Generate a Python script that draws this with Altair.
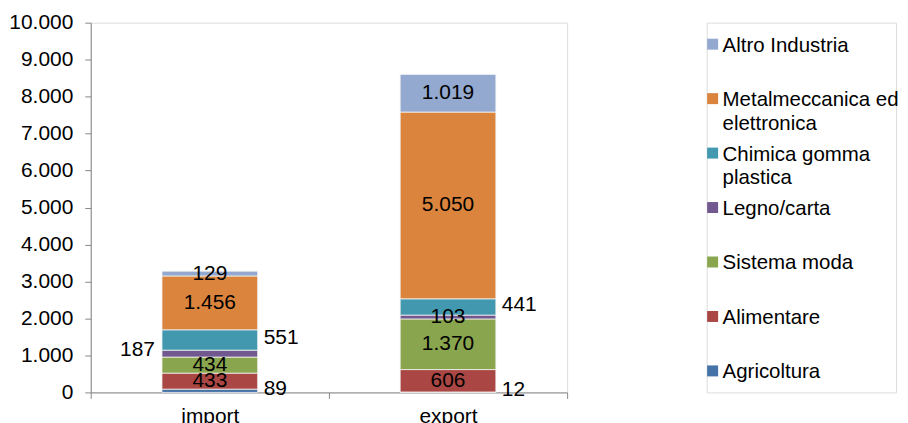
import altair as alt
import pandas as pd

# ---- data ----
categories = ["import", "export"]
series = ["Agricoltura", "Alimentare", "Sistema moda", "Legno/carta",
          "Chimica gomma plastica", "Metalmeccanica ed elettronica", "Altro Industria"]
legend_labels = ["Agricoltura", "Alimentare", "Sistema moda", "Legno/carta",
                 "Chimica gomma\nplastica", "Metalmeccanica ed\nelettronica", "Altro Industria"]
import_values = [89, 433, 434, 187, 551, 1456, 129]
export_values = [12, 606, 1370, 103, 441, 5050, 1019]
colors = ["#4572A7", "#AA4643", "#89A54E", "#71588F", "#4198AF", "#DB843D", "#93A9CF"]
y_ticks = [0, 1000, 2000, 3000, 4000, 5000, 6000, 7000, 8000, 9000, 10000]

# label placement (style): which labels sit beside the bar
side = {("import", "Agricoltura"): "right",
        ("import", "Legno/carta"): "left",
        ("import", "Chimica gomma plastica"): "right",
        ("export", "Agricoltura"): "right",
        ("export", "Chimica gomma plastica"): "right"}

rows = []
for cat, vals in zip(categories, [import_values, export_values]):
    for i, (s, v) in enumerate(zip(series, vals)):
        rows.append({"cat": cat, "series": s, "value": v, "ord": i,
                     "side": side.get((cat, s), "center")})
df = pd.DataFrame(rows)

leg = pd.DataFrame({"series": series, "label": legend_labels})

FONT = "Liberation Sans"
FS = 21
AX = "#888888"

color_scale = alt.Scale(domain=series, range=colors)
x_scale = alt.Scale(paddingInner=0, paddingOuter=0)
y_scale = alt.Scale(domain=[0, 10000], nice=False)

x_axis = alt.Axis(labelAngle=0, domainColor=AX, tickColor=AX, tickSize=6,
                  tickBand="extent", labelFontSize=FS, labelFont=FONT,
                  labelColor="#000000", labelPadding=7)
y_axis = alt.Axis(values=y_ticks, grid=False, domainColor=AX, tickColor=AX,
                  tickSize=6, labelPadding=12, labelFontSize=FS, labelFont=FONT,
                  labelColor="#000000", labelOverlap=False,
                  labelExpr="replace(format(datum.value, ','), ',', '.')")

base = alt.Chart(df)

bars = base.mark_bar(size=96, stroke="#F2F2F2", strokeWidth=0.8).encode(
    x=alt.X("cat:N", sort=categories, title=None, scale=x_scale, axis=x_axis),
    y=alt.Y("value:Q", stack="zero", title=None, scale=y_scale, axis=y_axis),
    color=alt.Color("series:N", scale=color_scale, legend=None),
    order=alt.Order("ord:Q", sort="ascending"),
)

lab_base = base.transform_stack(
    stack="value", groupby=["cat"], sort=[alt.SortField("ord", order="ascending")],
    as_=["y0", "y1"]
).transform_calculate(
    mid="(datum.y0 + datum.y1) / 2",
    txt="replace(format(datum.value, ','), ',', '.')"
)

def label_layer(which, **kw):
    return lab_base.transform_filter(alt.datum.side == which).mark_text(
        font=FONT, fontSize=FS, color="#000000", **kw
    ).encode(
        x=alt.X("cat:N", sort=categories, title=None, scale=x_scale, axis=x_axis),
        y=alt.Y("mid:Q", title=None, scale=y_scale, axis=y_axis),
        text="txt:N",
    )

lab_c = label_layer("center", align="center", baseline="middle")
lab_r = label_layer("right", align="left", baseline="middle", dx=54, dy=-2)
lab_l = label_layer("left", align="right", baseline="middle", dx=-55, dy=-4)

main = alt.layer(bars, lab_c, lab_r, lab_l).properties(width=478, height=371)

leg_base = alt.Chart(leg).encode(
    y=alt.Y("series:N", sort=series[::-1],
            scale=alt.Scale(type="point", padding=0.395), axis=None)
)
leg_sq = leg_base.mark_square(size=121, opacity=1).encode(
    x=alt.value(6),
    color=alt.Color("series:N", scale=color_scale, legend=None),
)
leg_tx = leg_base.mark_text(
    font=FONT, fontSize=20.5, color="#000000", align="left", baseline="alphabetic",
    dy=7.5, lineBreak="\n", lineHeight=24
).encode(x=alt.value(16), text="label:N")

legend = alt.layer(leg_sq, leg_tx).properties(width=190, height=371)

chart = alt.hconcat(main, legend, spacing=138).properties(
    padding={"left": 0, "top": 2, "right": 0, "bottom": 5}
).configure_view(stroke=None).configure(background="white")

chart.save("out.html", embed_options={"renderer": "svg", "actions": False})
